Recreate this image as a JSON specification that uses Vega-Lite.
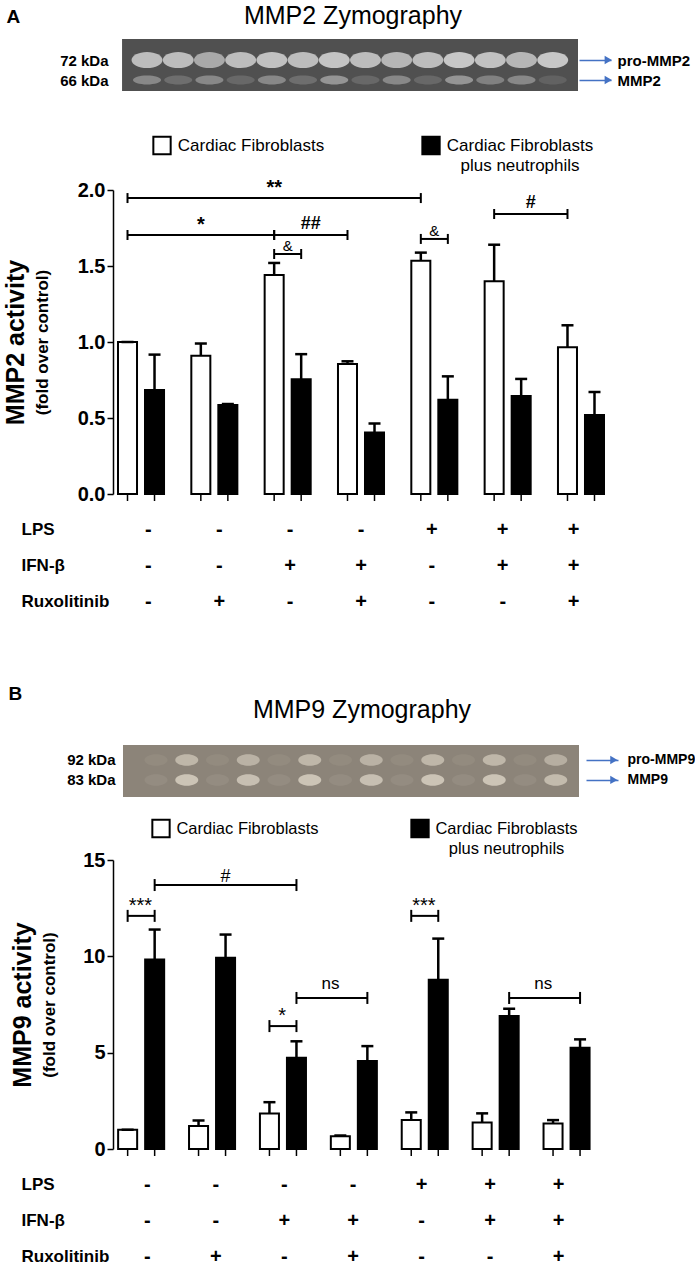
{
"$schema": "https://vega.github.io/schema/vega-lite/v6.json",
"background": "white",
"padding": {"left": 3, "top": 3, "right": 0, "bottom": 0},
"config": {"font": "Liberation Sans", "view": {"stroke": null}},
"datasets": {
 "gelA": [
  {"lane":1,"kda":72,"intensity":0.85},{"lane":2,"kda":72,"intensity":0.85},{"lane":3,"kda":72,"intensity":0.7},{"lane":4,"kda":72,"intensity":0.85},{"lane":5,"kda":72,"intensity":0.88},{"lane":6,"kda":72,"intensity":0.85},{"lane":7,"kda":72,"intensity":0.9},{"lane":8,"kda":72,"intensity":0.85},{"lane":9,"kda":72,"intensity":0.8},{"lane":10,"kda":72,"intensity":0.85},{"lane":11,"kda":72,"intensity":0.92},{"lane":12,"kda":72,"intensity":0.88},{"lane":13,"kda":72,"intensity":0.8},{"lane":14,"kda":72,"intensity":0.92},
  {"lane":1,"kda":66,"intensity":0.45},{"lane":2,"kda":66,"intensity":0.25},{"lane":3,"kda":66,"intensity":0.45},{"lane":4,"kda":66,"intensity":0.2},{"lane":5,"kda":66,"intensity":0.45},{"lane":6,"kda":66,"intensity":0.25},{"lane":7,"kda":66,"intensity":0.55},{"lane":8,"kda":66,"intensity":0.2},{"lane":9,"kda":66,"intensity":0.45},{"lane":10,"kda":66,"intensity":0.2},{"lane":11,"kda":66,"intensity":0.55},{"lane":12,"kda":66,"intensity":0.4},{"lane":13,"kda":66,"intensity":0.45},{"lane":14,"kda":66,"intensity":0.15}
 ],
 "gelB": [
  {"lane":1,"kda":92,"intensity":0.08},{"lane":2,"kda":92,"intensity":0.6},{"lane":3,"kda":92,"intensity":0.08},{"lane":4,"kda":92,"intensity":0.55},{"lane":5,"kda":92,"intensity":0.08},{"lane":6,"kda":92,"intensity":0.6},{"lane":7,"kda":92,"intensity":0.08},{"lane":8,"kda":92,"intensity":0.55},{"lane":9,"kda":92,"intensity":0.08},{"lane":10,"kda":92,"intensity":0.6},{"lane":11,"kda":92,"intensity":0.08},{"lane":12,"kda":92,"intensity":0.6},{"lane":13,"kda":92,"intensity":0.08},{"lane":14,"kda":92,"intensity":0.5},
  {"lane":1,"kda":83,"intensity":0.1},{"lane":2,"kda":83,"intensity":0.75},{"lane":3,"kda":83,"intensity":0.1},{"lane":4,"kda":83,"intensity":0.7},{"lane":5,"kda":83,"intensity":0.1},{"lane":6,"kda":83,"intensity":0.75},{"lane":7,"kda":83,"intensity":0.1},{"lane":8,"kda":83,"intensity":0.7},{"lane":9,"kda":83,"intensity":0.1},{"lane":10,"kda":83,"intensity":0.75},{"lane":11,"kda":83,"intensity":0.1},{"lane":12,"kda":83,"intensity":0.75},{"lane":13,"kda":83,"intensity":0.1},{"lane":14,"kda":83,"intensity":0.65}
 ],
 "legend": [
  {"series":"Cardiac Fibroblasts","label":"Cardiac Fibroblasts"},
  {"series":"Cardiac Fibroblasts plus neutrophils","label":"Cardiac Fibroblasts\nplus neutrophils"}
 ],
 "barsA": [
  {"group":"Control","series":"Cardiac Fibroblasts","mean":1.0,"upper":1.0},
  {"group":"Control","series":"Cardiac Fibroblasts plus neutrophils","mean":0.685,"upper":0.917},
  {"group":"Ruxolitinib","series":"Cardiac Fibroblasts","mean":0.91,"upper":0.99},
  {"group":"Ruxolitinib","series":"Cardiac Fibroblasts plus neutrophils","mean":0.585,"upper":0.592},
  {"group":"IFN-β","series":"Cardiac Fibroblasts","mean":1.44,"upper":1.52},
  {"group":"IFN-β","series":"Cardiac Fibroblasts plus neutrophils","mean":0.755,"upper":0.92},
  {"group":"IFN-β + Ruxolitinib","series":"Cardiac Fibroblasts","mean":0.856,"upper":0.873},
  {"group":"IFN-β + Ruxolitinib","series":"Cardiac Fibroblasts plus neutrophils","mean":0.405,"upper":0.463},
  {"group":"LPS","series":"Cardiac Fibroblasts","mean":1.535,"upper":1.588},
  {"group":"LPS","series":"Cardiac Fibroblasts plus neutrophils","mean":0.62,"upper":0.774},
  {"group":"LPS + IFN-β","series":"Cardiac Fibroblasts","mean":1.4,"upper":1.64},
  {"group":"LPS + IFN-β","series":"Cardiac Fibroblasts plus neutrophils","mean":0.645,"upper":0.757},
  {"group":"LPS + IFN-β + Ruxolitinib","series":"Cardiac Fibroblasts","mean":0.965,"upper":1.11},
  {"group":"LPS + IFN-β + Ruxolitinib","series":"Cardiac Fibroblasts plus neutrophils","mean":0.52,"upper":0.671}
 ],
 "barsB": [
  {"group":"Control","series":"Cardiac Fibroblasts","mean":1.0,"upper":1.0},
  {"group":"Control","series":"Cardiac Fibroblasts plus neutrophils","mean":9.83,"upper":11.39},
  {"group":"Ruxolitinib","series":"Cardiac Fibroblasts","mean":1.2,"upper":1.48},
  {"group":"Ruxolitinib","series":"Cardiac Fibroblasts plus neutrophils","mean":9.93,"upper":11.13},
  {"group":"IFN-β","series":"Cardiac Fibroblasts","mean":1.84,"upper":2.43},
  {"group":"IFN-β","series":"Cardiac Fibroblasts plus neutrophils","mean":4.74,"upper":5.59},
  {"group":"IFN-β + Ruxolitinib","series":"Cardiac Fibroblasts","mean":0.66,"upper":0.7},
  {"group":"IFN-β + Ruxolitinib","series":"Cardiac Fibroblasts plus neutrophils","mean":4.57,"upper":5.34},
  {"group":"LPS","series":"Cardiac Fibroblasts","mean":1.5,"upper":1.9},
  {"group":"LPS","series":"Cardiac Fibroblasts plus neutrophils","mean":8.78,"upper":10.92},
  {"group":"LPS + IFN-β","series":"Cardiac Fibroblasts","mean":1.37,"upper":1.85},
  {"group":"LPS + IFN-β","series":"Cardiac Fibroblasts plus neutrophils","mean":6.9,"upper":7.28},
  {"group":"LPS + IFN-β + Ruxolitinib","series":"Cardiac Fibroblasts","mean":1.32,"upper":1.5},
  {"group":"LPS + IFN-β + Ruxolitinib","series":"Cardiac Fibroblasts plus neutrophils","mean":5.26,"upper":5.69}
 ],
 "bracketsA": [
  {"id":"A1","group":"Control","series":"Cardiac Fibroblasts","level":1.947},
  {"id":"A1","group":"LPS","series":"Cardiac Fibroblasts","level":1.947},
  {"id":"A2","group":"Control","series":"Cardiac Fibroblasts","level":1.704},
  {"id":"A2","group":"IFN-β","series":"Cardiac Fibroblasts","level":1.704},
  {"id":"A3","group":"IFN-β","series":"Cardiac Fibroblasts","level":1.704},
  {"id":"A3","group":"IFN-β + Ruxolitinib","series":"Cardiac Fibroblasts","level":1.704},
  {"id":"A4","group":"IFN-β","series":"Cardiac Fibroblasts","level":1.579},
  {"id":"A4","group":"IFN-β","series":"Cardiac Fibroblasts plus neutrophils","level":1.579},
  {"id":"A5","group":"LPS","series":"Cardiac Fibroblasts","level":1.678},
  {"id":"A5","group":"LPS","series":"Cardiac Fibroblasts plus neutrophils","level":1.678},
  {"id":"A6","group":"LPS + IFN-β","series":"Cardiac Fibroblasts","level":1.842},
  {"id":"A6","group":"LPS + IFN-β + Ruxolitinib","series":"Cardiac Fibroblasts","level":1.842}
 ],
 "bracketsB": [
  {"id":"B1","group":"Control","series":"Cardiac Fibroblasts plus neutrophils","level":13.7},
  {"id":"B1","group":"IFN-β","series":"Cardiac Fibroblasts plus neutrophils","level":13.7},
  {"id":"B2","group":"Control","series":"Cardiac Fibroblasts","level":12.1},
  {"id":"B2","group":"Control","series":"Cardiac Fibroblasts plus neutrophils","level":12.1},
  {"id":"B3","group":"LPS","series":"Cardiac Fibroblasts","level":12.1},
  {"id":"B3","group":"LPS","series":"Cardiac Fibroblasts plus neutrophils","level":12.1},
  {"id":"B4","group":"IFN-β","series":"Cardiac Fibroblasts plus neutrophils","level":7.84},
  {"id":"B4","group":"IFN-β + Ruxolitinib","series":"Cardiac Fibroblasts plus neutrophils","level":7.84},
  {"id":"B5","group":"LPS + IFN-β","series":"Cardiac Fibroblasts plus neutrophils","level":7.84},
  {"id":"B5","group":"LPS + IFN-β + Ruxolitinib","series":"Cardiac Fibroblasts plus neutrophils","level":7.84},
  {"id":"B6","group":"IFN-β","series":"Cardiac Fibroblasts","level":6.38},
  {"id":"B6","group":"IFN-β","series":"Cardiac Fibroblasts plus neutrophils","level":6.38}
 ],
 "signs": [
  {"group":"Control","factor":"LPS","sign":"-"},{"group":"Ruxolitinib","factor":"LPS","sign":"-"},{"group":"IFN-β","factor":"LPS","sign":"-"},{"group":"IFN-β + Ruxolitinib","factor":"LPS","sign":"-"},{"group":"LPS","factor":"LPS","sign":"+"},{"group":"LPS + IFN-β","factor":"LPS","sign":"+"},{"group":"LPS + IFN-β + Ruxolitinib","factor":"LPS","sign":"+"},
  {"group":"Control","factor":"IFN-β","sign":"-"},{"group":"Ruxolitinib","factor":"IFN-β","sign":"-"},{"group":"IFN-β","factor":"IFN-β","sign":"+"},{"group":"IFN-β + Ruxolitinib","factor":"IFN-β","sign":"+"},{"group":"LPS","factor":"IFN-β","sign":"-"},{"group":"LPS + IFN-β","factor":"IFN-β","sign":"+"},{"group":"LPS + IFN-β + Ruxolitinib","factor":"IFN-β","sign":"+"},
  {"group":"Control","factor":"Ruxolitinib","sign":"-"},{"group":"Ruxolitinib","factor":"Ruxolitinib","sign":"+"},{"group":"IFN-β","factor":"Ruxolitinib","sign":"-"},{"group":"IFN-β + Ruxolitinib","factor":"Ruxolitinib","sign":"+"},{"group":"LPS","factor":"Ruxolitinib","sign":"-"},{"group":"LPS + IFN-β","factor":"Ruxolitinib","sign":"-"},{"group":"LPS + IFN-β + Ruxolitinib","factor":"Ruxolitinib","sign":"+"}
 ]
},
"bounds": "flush",
"spacing": 18,
"vconcat": [
  {"width": 465, "height": 52,
   "resolve": {"axis": {"y": "independent"}},
   "layer": [
    {"data": {"values": [{"gel": "MMP2"}]},
     "mark": {"type": "rect", "fill": "#505050"},
     "encoding": {
      "x": {"datum": 0.2, "type": "quantitative", "scale": {"domain": [-0.09, 14.81], "nice": false, "zero": false}, "axis": {"orient": "top", "labels": false, "ticks": false, "domain": false, "grid": false, "title": "MMP2 Zymography", "titleFontSize": 25, "titleFontWeight": "normal", "titleColor": "black", "titleX": 239.5, "titleY": -16, "titleAlign": "center", "titleBaseline": "alphabetic"}},
      "x2": {"datum": 14.81},
      "y": {"datum": 62.7, "type": "quantitative", "scale": {"domain": [62.7, 78.3], "nice": false, "zero": false}, "axis": null},
      "y2": {"datum": 78.3}}},
    {"data": {"name": "gelA"}, "transform": [{"filter": "datum.kda == 72"}],
     "mark": {"type": "point", "shape": "M-1,0A1,0.52,0,1,1,1,0A1,0.52,0,1,1,-1,0Z", "size": 961, "filled": true, "opacity": 1, "strokeWidth": 0},
     "encoding": {
      "x": {"field": "lane", "type": "quantitative"},
      "y": {"field": "kda", "type": "quantitative", "axis": {"values": [72, 66], "labelExpr": "datum.value + ' kDa'", "labelFontSize": 15, "labelFontWeight": "bold", "labelColor": "black", "ticks": false, "tickSize": 0, "domain": false, "grid": false, "labelPadding": 5, "title": "A", "titleAngle": 0, "titleX": -107, "titleY": -17, "titleAlign": "left", "titleBaseline": "alphabetic", "titleFontSize": 19, "titleFontWeight": "bold", "titleColor": "black"}},
      "fill": {"field": "intensity", "type": "quantitative", "scale": {"domain": [0, 1], "range": ["#505050", "#d2d2d2"]}, "legend": null}}},
    {"data": {"name": "gelA"}, "transform": [{"filter": "datum.kda == 66"}],
     "mark": {"type": "point", "shape": "M-1,0A1,0.32,0,1,1,1,0A1,0.32,0,1,1,-1,0Z", "size": 784, "filled": true, "opacity": 1, "strokeWidth": 0},
     "encoding": {
      "x": {"field": "lane", "type": "quantitative"},
      "y": {"field": "kda", "type": "quantitative", "axis": null},
      "fill": {"field": "intensity", "type": "quantitative", "legend": null}}},
    {"data": {"values": [{"kda": 72, "form": "pro-MMP2"}, {"kda": 66, "form": "MMP2"}]},
     "mark": {"type": "point", "shape": "triangle-right", "size": 70, "filled": true, "fill": "#4472c4", "opacity": 1, "strokeWidth": 0},
     "encoding": {
      "x": {"datum": 15.78, "type": "quantitative"},
      "y": {"field": "kda", "type": "quantitative", "axis": {"orient": "right", "values": [72, 66], "labelExpr": "datum.value == 72 ? 'pro-MMP2' : 'MMP2'", "tickColor": "#4472c4", "tickSize": 32, "tickWidth": 1.5, "offset": 1, "labelPadding": 6, "domain": false, "grid": false, "labelFontSize": 15, "labelFontWeight": "bold", "labelColor": "black", "title": null}}}}
   ]},
  {"width": 496, "height": 63,
   "data": {"name": "legend"},
   "layer": [
    {"mark": {"type": "point", "shape": "square", "size": 300, "filled": true, "stroke": "black", "strokeWidth": 2, "opacity": 1, "yOffset": 5},
     "encoding": {
      "x": {"field": "series", "type": "nominal", "scale": {"type": "point", "domain": ["Cardiac Fibroblasts", "Cardiac Fibroblasts plus neutrophils"], "padding": 0.4219, "align": 0.2159}, "axis": null},
      "fill": {"field": "series", "type": "nominal", "scale": {"domain": ["Cardiac Fibroblasts", "Cardiac Fibroblasts plus neutrophils"], "range": ["white", "black"]}, "legend": null}}},
    {"mark": {"type": "text", "fontSize": 17, "dx": 89, "dy": 5, "align": "center", "baseline": "middle", "lineBreak": "\n", "lineHeight": 20, "color": "black"},
     "encoding": {
      "x": {"field": "series", "type": "nominal", "axis": null},
      "text": {"field": "label"}}}
   ]},
  {"width": 496, "height": 304,
   "resolve": {"axis": {"y": "independent"}},
   "layer": [
    {"data": {"name": "barsA"},
     "mark": {"type": "bar", "stroke": "black", "strokeWidth": 2},
     "encoding": {
      "x": {"field": "group", "type": "nominal", "sort": null, "scale": {"domain": ["Control", "Ruxolitinib", "IFN-β", "IFN-β + Ruxolitinib", "LPS", "LPS + IFN-β", "LPS + IFN-β + Ruxolitinib"], "paddingInner": 0.3, "paddingOuter": 0.032}, "axis": {"labels": false, "ticks": false, "title": null, "domainColor": "black", "domainWidth": 2}},
      "xOffset": {"field": "series", "type": "nominal", "scale": {"domain": ["Cardiac Fibroblasts", "Cardiac Fibroblasts plus neutrophils"], "paddingInner": 0.296, "paddingOuter": 0.098}},
      "y": {"field": "mean", "type": "quantitative", "scale": {"domain": [0, 2], "nice": false}, "axis": {"values": [0, 0.5, 1, 1.5, 2], "format": ".1f", "labelFontSize": 20, "labelFontWeight": "bold", "labelColor": "black", "labelPadding": 2, "labelFlush": false, "labelOverlap": false, "tickSize": 6, "tickWidth": 1.5, "tickColor": "black", "domainColor": "black", "domainWidth": 1.5, "grid": false, "title": "MMP2 activity", "titleFontSize": 25, "titleFontWeight": "bold", "titleColor": "black", "titlePadding": 49}},
      "fill": {"field": "series", "type": "nominal", "scale": {"domain": ["Cardiac Fibroblasts", "Cardiac Fibroblasts plus neutrophils"], "range": ["white", "black"]}, "legend": null}}},
    {"data": {"name": "barsA"},
     "mark": {"type": "rule", "strokeWidth": 2.5, "color": "black"},
     "encoding": {
      "x": {"field": "group", "type": "nominal", "axis": null},
      "xOffset": {"field": "series", "type": "nominal"},
      "y": {"field": "mean", "type": "quantitative", "axis": {"orient": "left", "labels": false, "ticks": false, "domain": false, "grid": false, "title": "(fold over control)", "titleFontSize": 17, "titleFontWeight": "bold", "titleColor": "black", "titlePadding": 62}},
      "y2": {"field": "upper"}}},
    {"data": {"name": "barsA"},
     "mark": {"type": "tick", "thickness": 2.5, "size": 12, "color": "black", "opacity": 1},
     "encoding": {
      "x": {"field": "group", "type": "nominal", "axis": null},
      "xOffset": {"field": "series", "type": "nominal"},
      "y": {"field": "upper", "type": "quantitative", "axis": null}}},
    {"data": {"name": "barsA"},
     "mark": {"type": "rule", "strokeWidth": 1.5, "color": "black", "y2Offset": 7},
     "encoding": {
      "x": {"field": "group", "type": "nominal", "axis": null},
      "xOffset": {"field": "series", "type": "nominal"},
      "y": {"datum": 0, "type": "quantitative", "axis": null},
      "y2": {"datum": 0}}},
    {"data": {"name": "bracketsA"},
     "mark": {"type": "line", "strokeWidth": 2, "color": "black"},
     "encoding": {
      "x": {"field": "group", "type": "nominal", "axis": null},
      "xOffset": {"field": "series", "type": "nominal"},
      "y": {"field": "level", "type": "quantitative", "axis": null},
      "detail": {"field": "id"}}},
    {"data": {"name": "bracketsA"},
     "mark": {"type": "rule", "strokeWidth": 2, "color": "black", "yOffset": -5, "y2Offset": 5},
     "encoding": {
      "x": {"field": "group", "type": "nominal", "axis": null},
      "xOffset": {"field": "series", "type": "nominal"},
      "y": {"field": "level", "type": "quantitative", "axis": null},
      "y2": {"field": "level"}}},
    {"data": {"values": [{"label": "**", "group": "IFN-β", "series": "Cardiac Fibroblasts", "level": 1.947}, {"label": "*", "group": "Ruxolitinib", "series": "Cardiac Fibroblasts", "level": 1.704}]},
     "mark": {"type": "text", "fontSize": 20, "fontWeight": "bold", "baseline": "alphabetic", "dy": -4, "color": "black"},
     "encoding": {
      "x": {"field": "group", "type": "nominal", "axis": null},
      "xOffset": {"field": "series", "type": "nominal"},
      "y": {"field": "level", "type": "quantitative", "axis": null},
      "text": {"field": "label"}}},
    {"data": {"values": [{"label": "&", "group": "IFN-β", "level": 1.579}, {"label": "&", "group": "LPS", "level": 1.678}]},
     "mark": {"type": "text", "fontSize": 15, "baseline": "alphabetic", "dy": -3, "color": "black"},
     "encoding": {
      "x": {"field": "group", "type": "nominal", "axis": null},
      "y": {"field": "level", "type": "quantitative", "axis": null},
      "text": {"field": "label"}}},
    {"data": {"values": [{"label": "##", "group": "IFN-β", "level": 1.704}, {"label": "#", "group": "LPS + IFN-β", "level": 1.842}]},
     "mark": {"type": "text", "fontSize": 18, "fontWeight": "bold", "baseline": "alphabetic", "dx": 23, "dy": -6, "color": "black"},
     "encoding": {
      "x": {"field": "group", "type": "nominal", "axis": null},
      "y": {"field": "level", "type": "quantitative", "axis": null},
      "text": {"field": "label"}}}
   ]},
  {"width": 496, "height": 98,
   "data": {"name": "signs"},
   "mark": {"type": "text", "fontSize": 20, "fontWeight": "bold", "baseline": "middle", "color": "black"},
   "encoding": {
    "x": {"field": "group", "type": "nominal", "sort": null, "scale": {"domain": ["Control", "Ruxolitinib", "IFN-β", "IFN-β + Ruxolitinib", "LPS", "LPS + IFN-β", "LPS + IFN-β + Ruxolitinib"], "paddingInner": 0.3, "paddingOuter": 0.032}, "axis": null},
    "y": {"field": "factor", "type": "nominal", "scale": {"type": "point", "domain": ["LPS", "IFN-β", "Ruxolitinib"], "padding": 0.361, "align": 0.692}, "axis": {"labelAlign": "left", "labelPadding": 92, "ticks": false, "tickSize": 0, "domain": false, "grid": false, "labelFontSize": 17, "labelFontWeight": "bold", "labelColor": "black", "labelBaseline": "middle", "title": null}},
    "text": {"field": "sign"}}},
  {"width": 10, "height": 99, "data": {"values": []}, "mark": "point"},
  {"width": 466, "height": 52,
   "resolve": {"axis": {"y": "independent"}},
   "layer": [
    {"data": {"values": [{"gel": "MMP9"}]},
     "mark": {"type": "rect", "fill": "#8c8479"},
     "encoding": {
      "x": {"datum": -0.073, "type": "quantitative", "scale": {"domain": [-0.398, 14.756], "nice": false, "zero": false}, "axis": {"orient": "top", "labels": false, "ticks": false, "domain": false, "grid": false, "title": "MMP9 Zymography", "titleFontSize": 25, "titleFontWeight": "normal", "titleColor": "black", "titleX": 248.5, "titleY": -28, "titleAlign": "center", "titleBaseline": "alphabetic"}},
      "x2": {"datum": 14.756},
      "y": {"datum": 75.3, "type": "quantitative", "scale": {"domain": [75.3, 98.75], "nice": false, "zero": false}, "axis": null},
      "y2": {"datum": 98.75}}},
    {"data": {"name": "gelB"},
     "mark": {"type": "point", "shape": "M-1,0A1,0.5,0,1,1,1,0A1,0.5,0,1,1,-1,0Z", "size": 529, "filled": true, "opacity": 1, "strokeWidth": 0},
     "encoding": {
      "x": {"field": "lane", "type": "quantitative"},
      "y": {"field": "kda", "type": "quantitative", "axis": {"values": [92, 83], "labelExpr": "datum.value + ' kDa'", "labelFontSize": 15, "labelFontWeight": "bold", "labelColor": "black", "ticks": false, "tickSize": 0, "domain": false, "grid": false, "labelPadding": -2, "title": "B", "titleAngle": 0, "titleX": -105, "titleY": -46, "titleAlign": "left", "titleBaseline": "alphabetic", "titleFontSize": 19, "titleFontWeight": "bold", "titleColor": "black"}},
      "fill": {"field": "intensity", "type": "quantitative", "scale": {"domain": [0, 1], "range": ["#8c8479", "#e2dacb"]}, "legend": null}}},
    {"data": {"values": [{"kda": 92, "form": "pro-MMP9"}, {"kda": 83, "form": "MMP9"}]},
     "mark": {"type": "point", "shape": "triangle-right", "size": 70, "filled": true, "fill": "#4472c4", "opacity": 1, "strokeWidth": 0},
     "encoding": {
      "x": {"datum": 15.89, "type": "quantitative"},
      "y": {"field": "kda", "type": "quantitative", "axis": {"orient": "right", "values": [92, 83], "labelExpr": "datum.value == 92 ? 'pro-MMP9' : 'MMP9'", "tickColor": "#4472c4", "tickSize": 32, "tickWidth": 1.5, "offset": 7, "labelPadding": 9, "domain": false, "grid": false, "labelFontSize": 14, "labelFontWeight": "bold", "labelColor": "black", "title": null}}}}
   ]},
  {"width": 480, "height": 27,
   "data": {"name": "legend"},
   "layer": [
    {"mark": {"type": "point", "shape": "square", "size": 300, "filled": true, "stroke": "black", "strokeWidth": 2, "opacity": 1},
     "encoding": {
      "x": {"field": "series", "type": "nominal", "scale": {"type": "point", "domain": ["Cardiac Fibroblasts", "Cardiac Fibroblasts plus neutrophils"], "padding": 0.4266, "align": 0.2172}, "axis": null},
      "fill": {"field": "series", "type": "nominal", "scale": {"domain": ["Cardiac Fibroblasts", "Cardiac Fibroblasts plus neutrophils"], "range": ["white", "black"]}, "legend": null}}},
    {"mark": {"type": "text", "fontSize": 16.5, "dx": 86.5, "align": "center", "baseline": "middle", "lineBreak": "\n", "lineHeight": 20, "color": "black"},
     "encoding": {
      "x": {"field": "series", "type": "nominal", "axis": null},
      "text": {"field": "label"}}}
   ]},
  {"width": 480, "height": 289,
   "resolve": {"axis": {"y": "independent"}},
   "layer": [
    {"data": {"name": "barsB"},
     "mark": {"type": "bar", "stroke": "black", "strokeWidth": 2},
     "encoding": {
      "x": {"field": "group", "type": "nominal", "sort": null, "scale": {"domain": ["Control", "Ruxolitinib", "IFN-β", "IFN-β + Ruxolitinib", "LPS", "LPS + IFN-β", "LPS + IFN-β + Ruxolitinib"], "paddingInner": 0.3, "paddingOuter": 0.035}, "axis": {"labels": false, "ticks": false, "title": null, "domainColor": "black", "domainWidth": 2}},
      "xOffset": {"field": "series", "type": "nominal", "scale": {"domain": ["Cardiac Fibroblasts", "Cardiac Fibroblasts plus neutrophils"], "paddingInner": 0.3, "paddingOuter": 0.062}},
      "y": {"field": "mean", "type": "quantitative", "scale": {"domain": [0, 15], "nice": false}, "axis": {"values": [0, 5, 10, 15], "format": "d", "labelFontSize": 20, "labelFontWeight": "bold", "labelColor": "black", "labelPadding": 2, "labelFlush": false, "labelOverlap": false, "tickSize": 6, "tickWidth": 1.5, "tickColor": "black", "domainColor": "black", "domainWidth": 1.5, "grid": false, "title": "MMP9 activity", "titleFontSize": 25, "titleFontWeight": "bold", "titleColor": "black", "titlePadding": 47}},
      "fill": {"field": "series", "type": "nominal", "scale": {"domain": ["Cardiac Fibroblasts", "Cardiac Fibroblasts plus neutrophils"], "range": ["white", "black"]}, "legend": null}}},
    {"data": {"name": "barsB"},
     "mark": {"type": "rule", "strokeWidth": 2.5, "color": "black"},
     "encoding": {
      "x": {"field": "group", "type": "nominal", "axis": null},
      "xOffset": {"field": "series", "type": "nominal"},
      "y": {"field": "mean", "type": "quantitative", "axis": {"orient": "left", "labels": false, "ticks": false, "domain": false, "grid": false, "title": "(fold over control)", "titleFontSize": 17, "titleFontWeight": "bold", "titleColor": "black", "titlePadding": 55}},
      "y2": {"field": "upper"}}},
    {"data": {"name": "barsB"},
     "mark": {"type": "tick", "thickness": 2.5, "size": 12, "color": "black", "opacity": 1},
     "encoding": {
      "x": {"field": "group", "type": "nominal", "axis": null},
      "xOffset": {"field": "series", "type": "nominal"},
      "y": {"field": "upper", "type": "quantitative", "axis": null}}},
    {"data": {"name": "barsB"},
     "mark": {"type": "rule", "strokeWidth": 1.5, "color": "black", "y2Offset": 7},
     "encoding": {
      "x": {"field": "group", "type": "nominal", "axis": null},
      "xOffset": {"field": "series", "type": "nominal"},
      "y": {"datum": 0, "type": "quantitative", "axis": null},
      "y2": {"datum": 0}}},
    {"data": {"name": "bracketsB"},
     "mark": {"type": "line", "strokeWidth": 2, "color": "black"},
     "encoding": {
      "x": {"field": "group", "type": "nominal", "axis": null},
      "xOffset": {"field": "series", "type": "nominal"},
      "y": {"field": "level", "type": "quantitative", "axis": null},
      "detail": {"field": "id"}}},
    {"data": {"name": "bracketsB"},
     "mark": {"type": "rule", "strokeWidth": 2, "color": "black", "yOffset": -6, "y2Offset": 6},
     "encoding": {
      "x": {"field": "group", "type": "nominal", "axis": null},
      "xOffset": {"field": "series", "type": "nominal"},
      "y": {"field": "level", "type": "quantitative", "axis": null},
      "y2": {"field": "level"}}},
    {"data": {"values": [{"label": "#", "group": "Ruxolitinib", "series": "Cardiac Fibroblasts plus neutrophils", "level": 13.7}]},
     "mark": {"type": "text", "fontSize": 18, "baseline": "alphabetic", "dy": -3, "color": "black"},
     "encoding": {
      "x": {"field": "group", "type": "nominal", "axis": null},
      "xOffset": {"field": "series", "type": "nominal"},
      "y": {"field": "level", "type": "quantitative", "axis": null},
      "text": {"field": "label"}}},
    {"data": {"values": [{"label": "***", "group": "Control", "level": 12.1}, {"label": "***", "group": "LPS", "level": 12.1}, {"label": "*", "group": "IFN-β", "level": 6.38}]},
     "mark": {"type": "text", "fontSize": 20, "baseline": "alphabetic", "dy": -4, "color": "black"},
     "encoding": {
      "x": {"field": "group", "type": "nominal", "axis": null},
      "y": {"field": "level", "type": "quantitative", "axis": null},
      "text": {"field": "label"}}},
    {"data": {"values": [{"label": "ns", "group": "IFN-β", "level": 7.84}, {"label": "ns", "group": "LPS + IFN-β", "level": 7.84}]},
     "mark": {"type": "text", "fontSize": 17, "baseline": "alphabetic", "dx": 48.5, "dy": -9, "color": "black"},
     "encoding": {
      "x": {"field": "group", "type": "nominal", "axis": null},
      "y": {"field": "level", "type": "quantitative", "axis": null},
      "text": {"field": "label"}}}
   ]},
  {"width": 480, "height": 98,
   "data": {"name": "signs"},
   "mark": {"type": "text", "fontSize": 20, "fontWeight": "bold", "baseline": "middle", "color": "black"},
   "encoding": {
    "x": {"field": "group", "type": "nominal", "sort": null, "scale": {"domain": ["Control", "Ruxolitinib", "IFN-β", "IFN-β + Ruxolitinib", "LPS", "LPS + IFN-β", "LPS + IFN-β + Ruxolitinib"], "paddingInner": 0.3, "paddingOuter": 0.035}, "axis": null},
    "y": {"field": "factor", "type": "nominal", "scale": {"type": "point", "domain": ["LPS", "IFN-β", "Ruxolitinib"], "padding": 0.361, "align": 0.692}, "axis": {"labelAlign": "left", "labelPadding": 92, "ticks": false, "tickSize": 0, "domain": false, "grid": false, "labelFontSize": 17, "labelFontWeight": "bold", "labelColor": "black", "labelBaseline": "middle", "title": null}},
    "text": {"field": "sign"}}}
]
}
